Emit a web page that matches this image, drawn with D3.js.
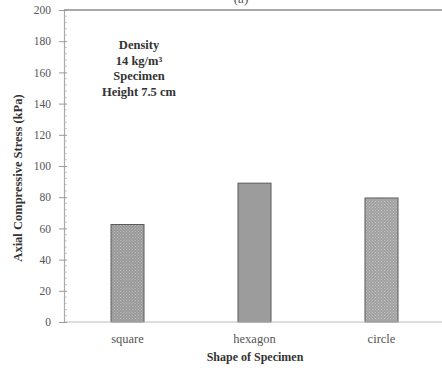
<!DOCTYPE html>
<html><head><meta charset="utf-8">
<script src="https://cdn.jsdelivr.net/npm/d3@7"></script>
<style>body{margin:0;background:#fff}svg{display:block}</style>
</head><body>
<script>
const categories = ["square", "hexagon", "circle"];
const values = [62.5, 89, 79.5];
const yTicks = [0, 20, 40, 60, 80, 100, 120, 140, 160, 180, 200];
const annotation = ["Density", "14 kg/m³", "Specimen", "Height 7.5 cm"];

const W = 442, H = 372;
const svg = d3.select("body").append("svg").attr("width", W).attr("height", H);
const font = "'Liberation Serif', 'DejaVu Serif', serif";
const defs = svg.append("defs");
function dots(id, bg, fg, s) {
  const p = defs.append("pattern").attr("id", id).attr("patternUnits", "userSpaceOnUse")
    .attr("width", s).attr("height", s);
  p.append("rect").attr("width", s).attr("height", s).attr("fill", bg);
  p.append("rect").attr("width", 1).attr("height", 1).attr("fill", fg);
  p.append("rect").attr("x", s/2).attr("y", s/2).attr("width", 1).attr("height", 1).attr("fill", fg);
}
dots("p0", "#999", "#bdbdbd", 3);
dots("p2", "#a0a0a0", "#c6c6c6", 3);
const fills = ["url(#p0)", "#9c9c9c", "url(#p2)"];

const x = d3.scaleBand().domain(categories).range([64, 445]).paddingInner(0.74).paddingOuter(0.37);
const y = d3.scaleLinear().domain([0, 200]).range([322, 10]);

// top frame line
svg.append("line").attr("x1", 64).attr("x2", W).attr("y1", y(200)).attr("y2", y(200))
  .attr("stroke", "#a8a8a8").attr("stroke-width", 2.2);

// bars
svg.selectAll(".bar").data(values).join("rect")
  .attr("x", (d, i) => x(categories[i]))
  .attr("y", d => y(d))
  .attr("width", x.bandwidth())
  .attr("height", d => y(0) - y(d))
  .attr("fill", (d, i) => fills[i])
  .attr("stroke", "#5a5a5a").attr("stroke-width", 1);

// baseline
svg.append("line").attr("x1", 64).attr("x2", W).attr("y1", y(0)).attr("y2", y(0))
  .attr("stroke", "#bbb").attr("stroke-width", 1.2);

// y axis
const minor = d3.range(0, 201, 4).filter(v => v % 20 !== 0);
svg.append("g").selectAll("line").data(minor).join("line")
  .attr("x1", 64).attr("x2", 67).attr("y1", d => y(d)).attr("y2", d => y(d))
  .attr("stroke", "#bbb").attr("stroke-width", 0.8);
const ya = svg.append("g").attr("transform", "translate(64,0)")
  .call(d3.axisLeft(y).tickValues(yTicks).tickSize(5).tickPadding(8).tickFormat(d3.format("d")));
ya.select(".domain").attr("stroke", "#aaa").attr("stroke-width", 1.2);
ya.selectAll(".tick line").attr("stroke", "#999").attr("x2", 3).attr("x1", -5);
ya.selectAll("text").attr("font-family", font).attr("font-size", 11.5).attr("fill", "#555");

// x labels
svg.append("g").selectAll("text").data(categories).join("text")
  .attr("x", d => x(d) + x.bandwidth()/2).attr("y", 343)
  .attr("text-anchor", "middle").attr("font-family", font).attr("font-size", 12.5).attr("fill", "#555")
  .text(d => d);

svg.append("text").attr("x", 255).attr("y", 361).attr("text-anchor", "middle")
  .attr("font-family", font).attr("font-size", 12).attr("font-weight", "bold").attr("fill", "#333")
  .text("Shape of Specimen");

svg.append("text").attr("transform", "translate(22,178) rotate(-90)").attr("text-anchor", "middle")
  .attr("font-family", font).attr("font-size", 12.5).attr("font-weight", "bold").attr("fill", "#333")
  .text("Axial Compressive Stress (kPa)");

svg.append("text").attr("x", 241).attr("y", 3).attr("text-anchor", "middle")
  .attr("font-family", font).attr("font-size", 13).attr("fill", "#555").text("(a)");

svg.append("g").selectAll("text").data(annotation).join("text")
  .attr("x", 139).attr("y", (d, i) => 49 + i * 15.5).attr("text-anchor", "middle")
  .attr("font-family", font).attr("font-size", 12.5).attr("font-weight", "bold").attr("fill", "#333")
  .text(d => d);
</script>
</body></html>
